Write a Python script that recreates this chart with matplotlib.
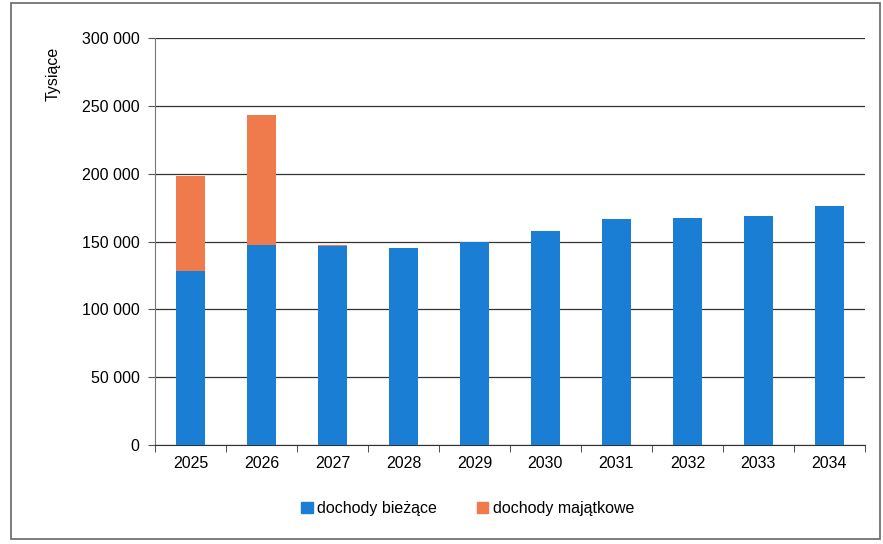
import numpy as np
import matplotlib.pyplot as plt
from matplotlib.patches import Patch

plt.rcParams['font.family'] = ['Liberation Sans', 'DejaVu Sans']

# Data (tysiące zł)
years = ['2025', '2026', '2027', '2028', '2029', '2030', '2031', '2032', '2033', '2034']
biezace = [128500, 147500, 146500, 145300, 149700, 157800, 166700, 167400, 168900, 176300]
majatkowe = [70000, 96000, 1000, 0, 0, 0, 0, 0, 0, 0]

c_biez = '#1a7fd4'
c_maj = '#ef7a4c'

fig = plt.figure(figsize=(8.83, 5.44), dpi=100)
ax = fig.add_axes([0.1755, 0.182, 0.804, 0.748])

x = np.arange(len(years))
ax.bar(x, biezace, width=0.4, color=c_biez, zorder=3)
ax.bar(x, majatkowe, width=0.4, bottom=biezace, color=c_maj, zorder=3)

ax.set_ylim(0, 300000)
ax.set_xlim(-0.5, len(years) - 0.5)
ax.set_yticks(np.arange(0, 300001, 50000))
ax.set_yticklabels([f'{v:,}'.replace(',', ' ') for v in range(0, 300001, 50000)], fontsize=11.5)
ax.set_xticks(x)
ax.set_xticklabels(years, fontsize=11.5)
ax.set_xticks(np.arange(-0.5, len(years), 1), minor=True)
ax.tick_params(axis='x', which='major', length=0, pad=8)
ax.tick_params(axis='x', which='minor', length=5, color='#333333')
ax.tick_params(axis='y', length=5, color='#555555', pad=6)

ax.grid(axis='y', color='#333333', linewidth=0.9, zorder=0)
for s in ['top', 'right']:
    ax.spines[s].set_visible(False)
ax.spines['left'].set_color('#777777')
ax.spines['bottom'].set_color('#333333')

fig.text(0.06, 0.864, 'Tysiące', rotation=90, fontsize=11.5, ha='center', va='center')

handles = [Patch(color=c_biez, label='dochody bieżące'),
           Patch(color=c_maj, label='dochody majątkowe')]
fig.legend(handles=handles, loc='center', bbox_to_anchor=(0.53, 0.065), ncol=2,
           frameon=False, fontsize=11.5, handlelength=0.7, handleheight=0.7,
           handletextpad=0.3, columnspacing=2.5)

# outer frame
fig.add_artist(plt.Rectangle((0.012, 0.01), 0.985, 0.985, transform=fig.transFigure,
                             fill=False, edgecolor='#666666', linewidth=1.2))

fig.savefig('out.png', dpi=100)
